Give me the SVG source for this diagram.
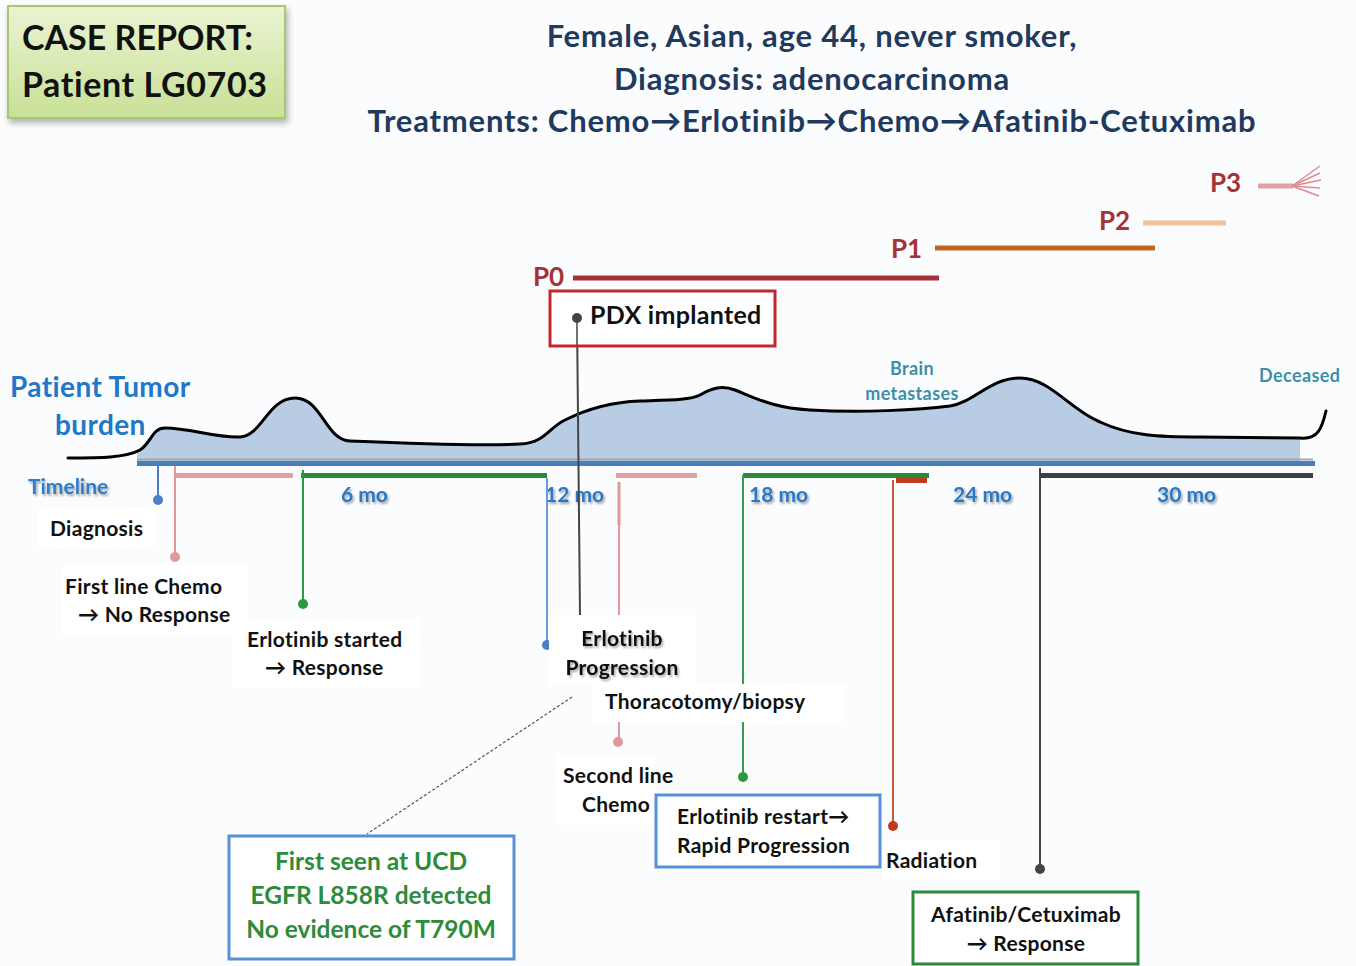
<svg xmlns="http://www.w3.org/2000/svg" width="1356" height="966" viewBox="0 0 1356 966">
<defs>
<linearGradient id="gg" x1="0" y1="0" x2="0" y2="1">
<stop offset="0" stop-color="#eaf4d2"/><stop offset="1" stop-color="#c8e096"/>
</linearGradient>
<filter id="sh" x="-10%" y="-10%" width="130%" height="140%">
<feDropShadow dx="2" dy="4" stdDeviation="3" flood-color="#000" flood-opacity="0.3"/>
</filter>
<filter id="ts" x="-10%" y="-30%" width="130%" height="170%">
<feDropShadow dx="1.5" dy="2" stdDeviation="1.2" flood-color="#000" flood-opacity="0.35"/>
</filter>
</defs>
<style>
text{font-family:Lato,"Open Sans","Liberation Sans",sans-serif;font-weight:bold}
.hd{fill:#1f3a5c;font-size:31px;text-anchor:middle;letter-spacing:0.8px}
.p{fill:#a33339;font-size:26px}
.lb{fill:#111;font-size:21px;letter-spacing:0.3px}
.mo{fill:#2a78c6;font-size:21px}
.teal{fill:#3d8fa6;font-size:18px;letter-spacing:0.4px}
.wb{fill:#fff}
.v{stroke-width:2;fill:none}
</style>
<rect width="1356" height="966" fill="#fbfcfe"/>

<g id="title">
<rect x="8" y="6" width="277" height="112" fill="url(#gg)" stroke="#a8c86e" stroke-width="2" filter="url(#sh)"/>
<text x="22" y="50" style="font-size:34px;fill:#111">CASE REPORT:</text>
<text x="22" y="97" style="font-size:34px;fill:#111;letter-spacing:0.6px">Patient LG0703</text>
</g>

<g id="header">
<text class="hd" x="812" y="47">Female, Asian, age 44, never smoker,</text>
<text class="hd" x="812" y="90">Diagnosis: adenocarcinoma</text>
<text class="hd" x="812" y="132">Treatments: Chemo→Erlotinib→Chemo→Afatinib-Cetuximab</text>
</g>

<g id="passages">
<text class="p" x="1210" y="192">P3</text>
<line x1="1258" y1="186" x2="1293" y2="186" stroke="#e0a0a4" stroke-width="5"/>
<g stroke="#e08a90" stroke-width="1.5">
<line x1="1292" y1="186" x2="1320" y2="166"/>
<line x1="1292" y1="186" x2="1320" y2="173"/>
<line x1="1292" y1="186" x2="1321" y2="180"/>
<line x1="1292" y1="186" x2="1320" y2="188"/>
<line x1="1292" y1="186" x2="1319" y2="196"/>
</g>
<text class="p" x="1099" y="230">P2</text>
<line x1="1143" y1="223" x2="1226" y2="223" stroke="#f1c397" stroke-width="5"/>
<text class="p" x="891" y="258">P1</text>
<line x1="935" y1="248" x2="1155" y2="248" stroke="#c4661f" stroke-width="5"/>
<text class="p" x="533" y="286">P0</text>
<line x1="573" y1="278" x2="939" y2="278" stroke="#a33339" stroke-width="5"/>
</g>

<g id="tumor">
<text x="10" y="397" style="fill:#2277c6;font-size:28px;letter-spacing:0.4px">Patient Tumor</text>
<text x="55" y="435" style="fill:#2277c6;font-size:28px;letter-spacing:0.4px">burden</text>
<path d="M137,452 C150,440 152,428 165,428 C190,428 215,438 240,437 C262,436 268,398 295,398 C322,398 325,440 350,441 C420,444 480,446 520,444 C545,443 548,428 565,420 C585,410 610,402 640,401 C670,400 690,400 700,395 C712,388 722,385 735,390 C760,400 775,408 810,410 C860,413 920,410 950,406 C975,402 990,378 1020,378 C1050,378 1070,410 1100,422 C1130,436 1160,437 1200,437 L1300,437 L1300,462 L137,462 Z" fill="#b8cce4"/>
<path d="M68,458 C100,458 125,458 140,450 C152,442 152,428 165,428 C190,428 215,438 240,437 C262,436 268,398 295,398 C322,398 325,440 350,441 C420,444 480,446 520,444 C545,443 548,428 565,420 C585,410 610,402 640,401 C670,400 690,400 700,395 C712,388 722,385 735,390 C760,400 775,408 810,410 C860,413 920,410 950,406 C975,402 990,378 1020,378 C1050,378 1070,410 1100,422 C1130,436 1160,437 1200,437 L1300,438 C1318,440 1322,428 1326,411" fill="none" stroke="#000" stroke-width="3" stroke-linecap="round"/>
<text class="teal" x="912" y="375" text-anchor="middle">Brain</text>
<text class="teal" x="912" y="400" text-anchor="middle">metastases</text>
<text class="teal" x="1259" y="382">Deceased</text>
</g>

<g id="timeline">
<line x1="137" y1="459.5" x2="1313" y2="459.5" stroke="#a8a8a8" stroke-width="2"/>
<rect x="137" y="461" width="1178" height="5" fill="#4a7cc2"/>
<text x="28" y="494" style="fill:#2f7dc8;font-size:21px" filter="url(#ts)">Timeline</text>
<g filter="url(#ts)">
<text class="mo" x="341" y="502">6 mo</text>
<text class="mo" x="545" y="502">12 mo</text>
<text class="mo" x="749" y="502">18 mo</text>
<text class="mo" x="953" y="502">24 mo</text>
<text class="mo" x="1157" y="502">30 mo</text>
</g>
<rect x="175" y="473" width="118" height="5" fill="#e0a0a4"/>
<rect x="301" y="473" width="246" height="5" fill="#2a8a3a"/>
<rect x="616" y="473" width="81" height="5" fill="#e0a0a4"/>
<rect x="743" y="473" width="186" height="5" fill="#2a8a3a"/>
<rect x="896" y="478" width="31" height="5" fill="#c23a1e"/>
<rect x="1040" y="473" width="273" height="5" fill="#404040"/>
</g>

<g id="connectors">
<line class="v" x1="158" y1="466" x2="158" y2="500" stroke="#4a80c8"/>
<circle cx="158" cy="500" r="5" fill="#4a80c8"/>
<line class="v" x1="175" y1="466" x2="175" y2="557" stroke="#e09898"/>
<circle cx="175" cy="557" r="5" fill="#e09898"/>
<line class="v" x1="303" y1="470" x2="303" y2="604" stroke="#2a9a40"/>
<circle cx="303" cy="604" r="5" fill="#2a9a40"/>
<line class="v" x1="547" y1="478" x2="547" y2="645" stroke="#6a9ad8"/>
<circle cx="547" cy="645" r="5" fill="#4a80c8"/>
<line class="v" x1="577" y1="318" x2="580" y2="615" stroke="#444" stroke-width="1.5"/>
<line class="v" x1="619" y1="482" x2="619" y2="742" stroke="#e09898"/>
<line x1="619" y1="482" x2="619" y2="525" stroke="#e09898" stroke-width="3"/>
<circle cx="618" cy="742" r="5" fill="#e09898"/>
<line class="v" x1="743" y1="475" x2="743" y2="777" stroke="#3a9a50"/>
<circle cx="743" cy="777" r="5" fill="#2a9a40"/>
<line class="v" x1="893" y1="480" x2="893" y2="826" stroke="#d0583a"/>
<circle cx="893" cy="826" r="5" fill="#c23a1e"/>
<line class="v" x1="1040" y1="468" x2="1040" y2="869" stroke="#444"/>
<circle cx="1040" cy="869" r="5" fill="#444"/>
<line x1="572" y1="697" x2="367" y2="834" stroke="#555" stroke-width="1.2" stroke-dasharray="3,2"/>
</g>

<g id="pdx">
<rect x="550" y="291" width="225" height="55" fill="#fff" stroke="#c0282c" stroke-width="3"/>
<circle cx="577" cy="318" r="5" fill="#444"/>
<line x1="577" y1="318" x2="577" y2="346" stroke="#444" stroke-width="1.5"/>
<text x="590" y="324" style="fill:#111;font-size:25px;letter-spacing:0.3px">PDX implanted</text>
</g>

<g id="diagnosis">
<rect class="wb" x="38" y="508" width="117" height="40"/>
<text class="lb" x="50" y="536">Diagnosis</text>
</g>
<g id="firstline">
<rect class="wb" x="62" y="566" width="186" height="70"/>
<text class="lb" x="65" y="594">First line Chemo</text>
<text class="lb" x="78" y="622">→ No Response</text>
</g>
<g id="erlostart">
<rect class="wb" x="232" y="618" width="188" height="70"/>
<text class="lb" x="247" y="647">Erlotinib started</text>
<text class="lb" x="265" y="675">→ Response</text>
</g>
<g id="erloprog">
<rect class="wb" x="549" y="615" width="146" height="70"/>
<text class="lb" x="622" y="646" text-anchor="middle" filter="url(#ts)">Erlotinib</text>
<text class="lb" x="622" y="675" text-anchor="middle" filter="url(#ts)">Progression</text>
</g>
<g id="thoraco">
<rect class="wb" x="592" y="684" width="253" height="38"/>
<text class="lb" x="605" y="709">Thoracotomy/biopsy</text>
</g>
<g id="secondline">
<rect class="wb" x="555" y="755" width="100" height="70"/>
<text class="lb" x="563" y="783">Second line</text>
<text class="lb" x="582" y="812">Chemo</text>
</g>
<g id="restart">
<rect x="656" y="795" width="224" height="72" fill="#fff" stroke="#5590d8" stroke-width="3"/>
<text class="lb" x="677" y="824">Erlotinib restart→</text>
<text class="lb" x="677" y="853">Rapid Progression</text>
</g>
<g id="radiation">
<rect class="wb" x="882" y="840" width="118" height="40"/>
<text class="lb" x="886" y="868">Radiation</text>
</g>
<g id="afatinib">
<rect x="913" y="892" width="225" height="72" fill="#fff" stroke="#2a8a3a" stroke-width="3"/>
<text class="lb" x="1026" y="922" text-anchor="middle">Afatinib/Cetuximab</text>
<text class="lb" x="1026" y="951" text-anchor="middle">→ Response</text>
</g>
<g id="ucd">
<rect x="229" y="836" width="285" height="123" fill="#fff" stroke="#5590d8" stroke-width="3"/>
<text x="371" y="870" text-anchor="middle" style="fill:#2e8b3a;font-size:24.5px">First seen at UCD</text>
<text x="371" y="904" text-anchor="middle" style="fill:#2e8b3a;font-size:24.5px">EGFR L858R detected</text>
<text x="371" y="938" text-anchor="middle" style="fill:#2e8b3a;font-size:24.5px">No evidence of T790M</text>
</g>
</svg>
